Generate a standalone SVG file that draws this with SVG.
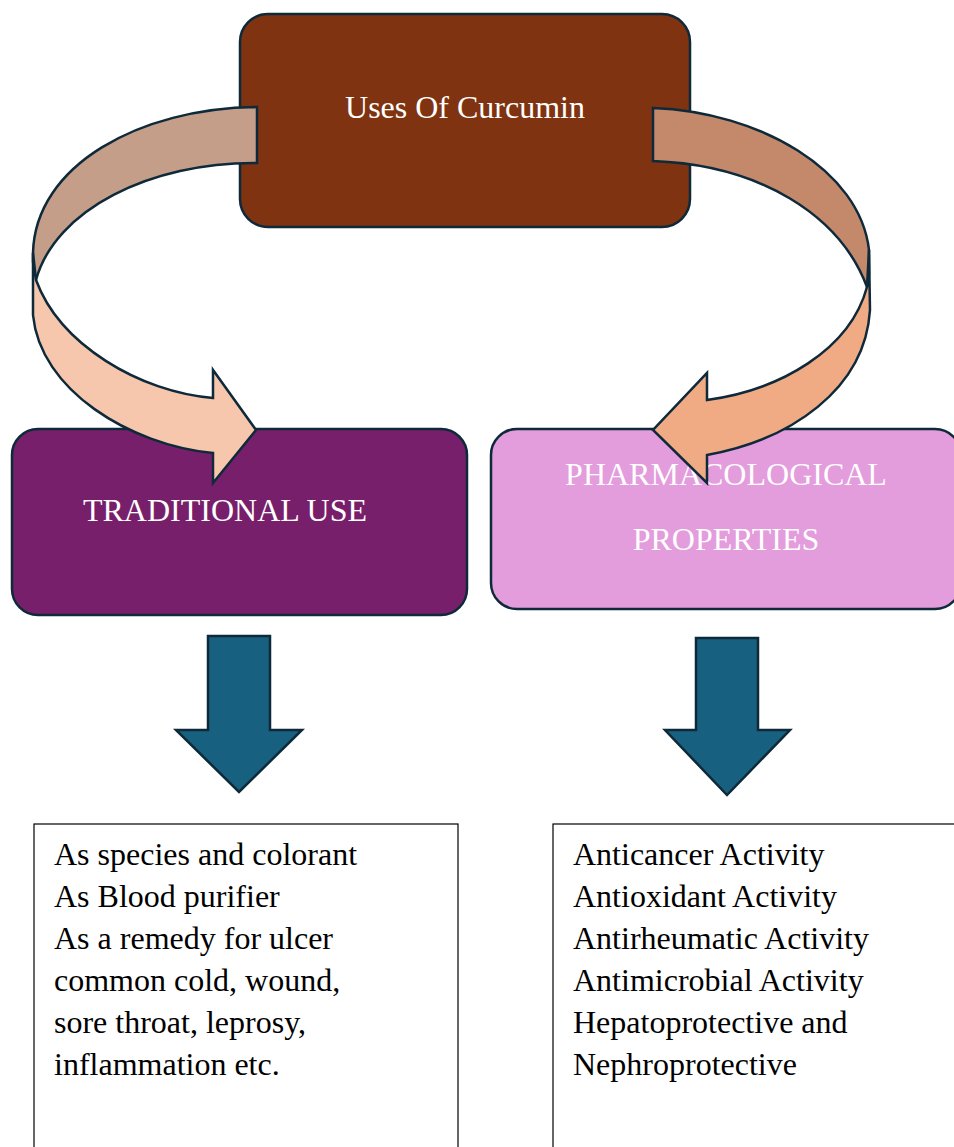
<svg xmlns="http://www.w3.org/2000/svg" width="954" height="1147" viewBox="0 0 954 1147">
<style>
.box{stroke:#0E2A3A;stroke-width:2.5}
.band{stroke:#0E2A3A;stroke-width:2.5;stroke-linejoin:miter}
.lbl{font-family:"Liberation Serif","Times New Roman",serif;fill:#FFFFFF;text-anchor:middle;font-size:32px}
.txt{font-family:"Liberation Serif","Times New Roman",serif;fill:#000000;font-size:32px}
.down{fill:#17607F;stroke:#0E2A3A;stroke-width:2.5}
.list{fill:#FFFFFF;stroke:#000000;stroke-width:1.2}
</style>
<rect width="954" height="1147" fill="#FFFFFF"/>
<g id="node-uses">
<rect class="box" x="240" y="14" width="450" height="213" rx="28" fill="#7F3311"/>
<text class="lbl" x="465" y="118">Uses Of Curcumin</text>
</g>
<g id="connectors-back">
<path class="band" fill="#C49E88" d="M257,107 C140,108 35,165 33,253 L33,262 Q34,272 36,280 C55,210 150,162 257,163 Z"/>
<path class="band" fill="#C3896A" d="M653,108 C760,112 860,170 869,250 L869,275 Q868,282 867,287 C840,215 760,165 653,161 Z"/>
</g>
<g id="node-traditional">
<rect class="box" x="12" y="429" width="455" height="186" rx="26" fill="#781F6B"/>
<text class="lbl" x="225" y="521">TRADITIONAL USE</text>
</g>
<g id="node-pharma">
<rect class="box" x="491" y="429" width="470" height="180" rx="26" fill="#E39CDC"/>
<text class="lbl" x="726" y="485">PHARMACOLOGICAL</text>
<text class="lbl" x="726" y="550">PROPERTIES</text>
</g>
<g id="connectors">
<path class="band" fill="#F6C7AD" d="M33,253 L33,315 C40,390 130,445 213,453 L213,483 L256,430 L213,370 L213,398 C140,392 60,345 36,280 Z"/>
<path class="band" fill="#F0AA84" d="M869,250 L870,310 C865,390 790,440 707,455 L707,483 L653,430 L707,373 L707,400 C780,390 850,350 867,287 Z"/>
<polygon class="down" points="208,636 270,636 270,730 302,730 239,792 176,730 208,730"/>
<polygon class="down" points="696,638 758,638 758,730 790,730 727,795 665,730 696,730"/>
</g>
<g id="node-traditional-list">
<rect class="list" x="34" y="824" width="424" height="340"/>
<text class="txt" x="54" y="865">As species and colorant</text>
<text class="txt" x="54" y="907">As Blood purifier</text>
<text class="txt" x="54" y="949">As a remedy for ulcer</text>
<text class="txt" x="54" y="991">common cold, wound,</text>
<text class="txt" x="54" y="1033">sore throat, leprosy,</text>
<text class="txt" x="54" y="1075">inflammation etc.</text>
</g>
<g id="node-pharma-list">
<rect class="list" x="553" y="824" width="420" height="340"/>
<text class="txt" x="573" y="865">Anticancer Activity</text>
<text class="txt" x="573" y="907">Antioxidant Activity</text>
<text class="txt" x="573" y="949">Antirheumatic Activity</text>
<text class="txt" x="573" y="991">Antimicrobial Activity</text>
<text class="txt" x="573" y="1033">Hepatoprotective and</text>
<text class="txt" x="573" y="1075">Nephroprotective</text>
</g>
</svg>
